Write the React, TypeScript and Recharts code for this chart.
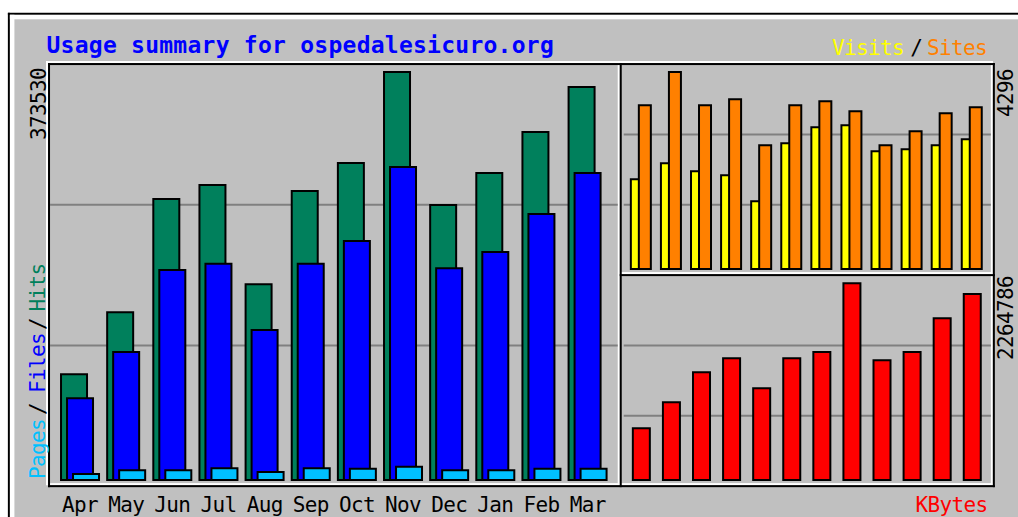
import { Bar, BarChart, CartesianGrid, XAxis, YAxis } from "recharts"

const months = ["Apr", "May", "Jun", "Jul", "Aug", "Sep", "Oct", "Nov", "Dec", "Jan", "Feb", "Mar"]
const hits = [96900, 153600, 257300, 270200, 179300, 264700, 290300, 373530, 251900, 281200, 318700, 359900]
const files = [74900, 117300, 192300, 198100, 137400, 198100, 218900, 286600, 193900, 208800, 243600, 281200]
const pages = [5600, 9000, 9000, 10800, 7400, 10800, 10400, 12300, 9000, 9000, 10400, 10400]
const visits = [1958, 2307, 2133, 2045, 1478, 2743, 3092, 3136, 2569, 2612, 2700, 2830]
const sites = [3572, 4296, 3572, 3703, 2700, 3572, 3659, 3441, 2700, 3005, 3398, 3529]
const kbytes = [595500, 894400, 1239300, 1400200, 1055300, 1400200, 1472600, 2264786, 1377200, 1472600, 1860100, 2139400]

const hitsMax = 373530
const sitesMax = 4296
const kbytesMax = 2264786
const hitsGrid = [123300, 252100]
const sitesGrid = [1403, 2937]
const kbytesGrid = [739500, 1548300]

const data = months.map((month, i) => ({
  month,
  hits: hits[i],
  files: files[i],
  pages: pages[i],
  visits: visits[i],
  sites: sites[i],
  kbytes: kbytes[i],
}))

const W = 1018
const H = 517
const mono = '"DejaVu Sans Mono", monospace'
const GREY = "#C0C0C0"
const DKGREY = "#808080"

// the original is a 512x256 webalizer image scaled about 2x
const X = (u: number) => 7.9 + 2.006 * u
const Y = (u: number) => 12.8 + 2.01 * u

function HLine({ y, x1, x2, color }: { y: number; x1: number; x2: number; color: string }) {
  return <rect x={X(x1)} y={Y(y)} width={X(x2 + 1) - X(x1)} height={Y(y + 1) - Y(y)} fill={color} />
}

function VLine({ x, y1, y2, color }: { x: number; y1: number; y2: number; color: string }) {
  return <rect x={X(x)} y={Y(y1)} width={X(x + 1) - X(x)} height={Y(y2 + 1) - Y(y1)} fill={color} />
}

const small = { fontFamily: mono, fontSize: 21, letterSpacing: -0.64 }

function Backdrop() {
  return (
    <svg width={W} height={H} style={{ position: "absolute", left: 0, top: 0 }}>
      <rect x={X(0)} y={Y(0)} width={W} height={H} fill={GREY} />
      <rect x={X(0)} y={Y(0)} width={W} height={2} fill="#000" />
      <rect x={X(0)} y={Y(0)} width={2} height={H} fill="#000" />
      <rect x={X(1)} y={Y(1)} width={W} height={4.5} fill="#fff" />
      <rect x={X(1)} y={Y(1)} width={4.5} height={H} fill="#fff" />

      <HLine y={24} x1={19} x2={490} color="#fff" />
      <HLine y={234} x1={19} x2={490} color="#fff" />
      <VLine x={19} y1={24} y2={234} color="#fff" />
      <VLine x={490} y1={24} y2={234} color="#fff" />
      <VLine x={304} y1={24} y2={234} color="#fff" />
      <HLine y={129} x1={305} x2={490} color="#fff" />

      <HLine y={25} x1={20} x2={491} color="#000" />
      <HLine y={235} x1={20} x2={491} color="#000" />
      <VLine x={20} y1={25} y2={235} color="#000" />
      <VLine x={491} y1={25} y2={235} color="#000" />
      <VLine x={305} y1={25} y2={235} color="#000" />
      <HLine y={130} x1={305} x2={491} color="#000" />

      <text x={46.5} y={52.5} fill="#0000FF" fontFamily={mono} fontSize={23} fontWeight="bold" letterSpacing={0.25}>
        Usage summary for ospedalesicuro.org
      </text>

      <text y={55} {...small}>
        <tspan x={832} fill="#FFFF00">Visits</tspan>
        <tspan x={910.3} fill="#000">/</tspan>
        <tspan x={927} fill="#FF8000">Sites</tspan>
      </text>
      <text x={915.5} y={511.5} fill="#FF0000" {...small}>KBytes</text>

      <text transform={`translate(46,68) rotate(-90)`} textAnchor="end" fill="#000" {...small}>{hitsMax}</text>
      <text transform={`translate(1013,69) rotate(-90)`} textAnchor="end" fill="#000" {...small}>{sitesMax}</text>
      <text transform={`translate(1013,276) rotate(-90)`} textAnchor="end" fill="#000" {...small}>{kbytesMax}</text>

      <text transform={`translate(45,479) rotate(-90)`} fill="#00C0FF" {...small}>Pages</text>
      <text transform={`translate(45,415) rotate(-90)`} fill="#000" {...small}>/</text>
      <text transform={`translate(45,393) rotate(-90)`} fill="#0000FF" {...small}>Files</text>
      <text transform={`translate(45,330) rotate(-90)`} fill="#000" {...small}>/</text>
      <text transform={`translate(45,311.5) rotate(-90)`} fill="#00805C" {...small}>Hits</text>
    </svg>
  )
}

const layer = { position: "absolute" as const, left: 0, top: 0 }

export default function App() {
  return (
    <div style={{ position: "absolute", left: 0, top: 0, width: W, height: H, overflow: "hidden", background: "#fff" }}>
      <Backdrop />

      <div style={layer}>
        <BarChart
          width={W}
          height={H}
          data={data}
          margin={{ top: Y(29) + 1, right: W - X(304), bottom: H - (Y(232) + 1) - 30, left: X(21) }}
          barSize={26}
          barGap={-20}
        >
          <CartesianGrid vertical={false} horizontalValues={hitsGrid} stroke={DKGREY} strokeWidth={2} />
          <XAxis
            dataKey="month"
            height={30}
            padding={{ left: 7, right: 7 }}
            axisLine={false}
            tickLine={false}
            tickSize={0}
            tickMargin={16.5}
            interval={0}
            tick={{ fill: "#000", ...small }}
          />
          <YAxis hide width={0} domain={[0, hitsMax]} />
          <Bar dataKey="hits" fill="#00805C" stroke="#000" strokeWidth={2} isAnimationActive={false} />
          <Bar dataKey="files" fill="#0000FF" stroke="#000" strokeWidth={2} isAnimationActive={false} />
          <Bar dataKey="pages" fill="#00C0FF" stroke="#000" strokeWidth={2} isAnimationActive={false} />
        </BarChart>
      </div>

      <div style={layer}>
        <BarChart
          width={W}
          height={H}
          data={data}
          margin={{ top: Y(29) + 1, right: W - X(490), bottom: H - (Y(127) + 1), left: X(307) }}
          barSize={12}
          barGap={-4}
        >
          <CartesianGrid vertical={false} horizontalValues={sitesGrid} stroke={DKGREY} strokeWidth={2} />
          <XAxis dataKey="month" hide height={0} padding={{ left: 2.1, right: 4 }} />
          <YAxis hide width={0} domain={[0, sitesMax]} />
          <Bar dataKey="visits" fill="#FFFF00" stroke="#000" strokeWidth={2} isAnimationActive={false} />
          <Bar dataKey="sites" fill="#FF8000" stroke="#000" strokeWidth={2} isAnimationActive={false} />
        </BarChart>
      </div>

      <div style={layer}>
        <BarChart
          width={W}
          height={H}
          data={data}
          margin={{ top: Y(134) + 1, right: W - X(490), bottom: H - (Y(232) + 1), left: X(307) }}
          barSize={17}
        >
          <CartesianGrid vertical={false} horizontalValues={kbytesGrid} stroke={DKGREY} strokeWidth={2} />
          <XAxis dataKey="month" hide height={0} padding={{ left: 2.1, right: 4 }} />
          <YAxis hide width={0} domain={[0, kbytesMax]} />
          <Bar dataKey="kbytes" fill="#FF0000" stroke="#000" strokeWidth={2} isAnimationActive={false} />
        </BarChart>
      </div>
    </div>
  )
}
